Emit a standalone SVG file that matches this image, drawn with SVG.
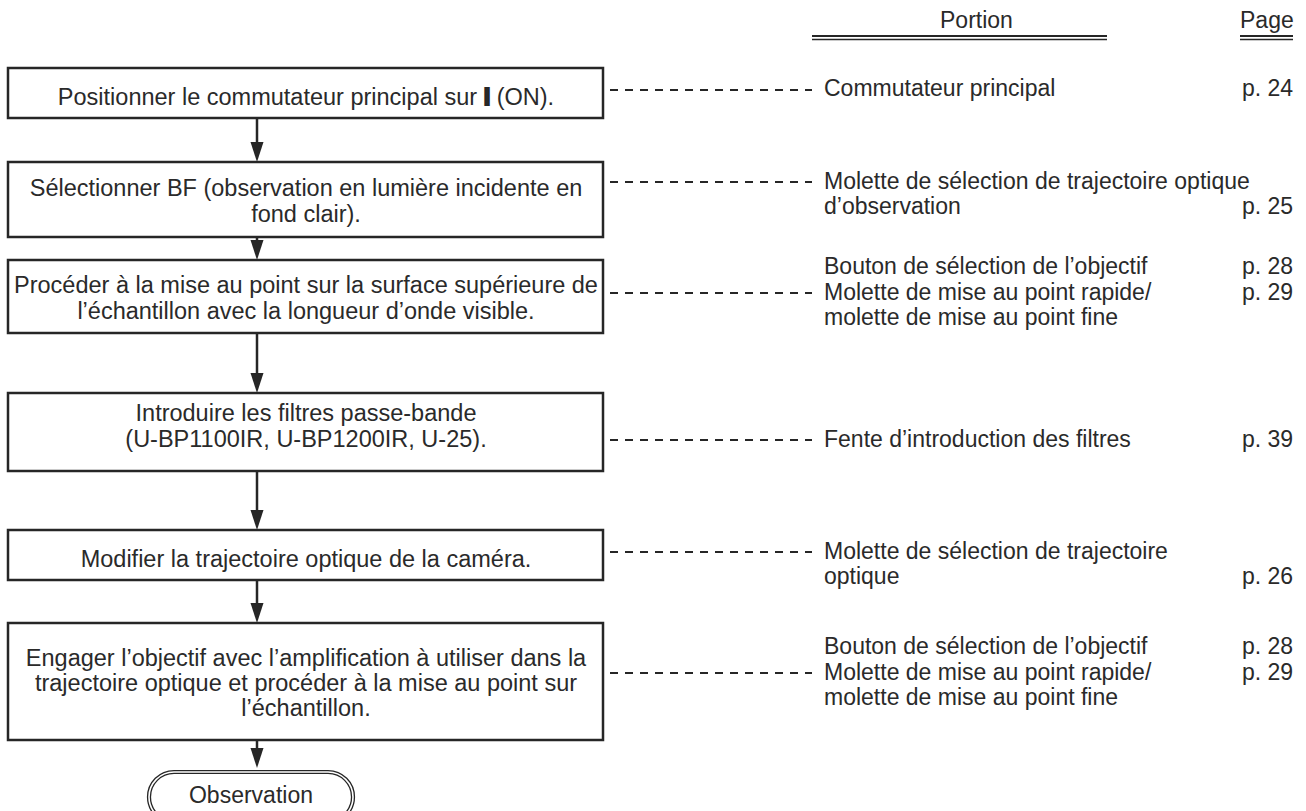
<svg xmlns="http://www.w3.org/2000/svg" width="1306" height="811" viewBox="0 0 1306 811">
  <style>
    text { font-family: "Liberation Sans", Arial, sans-serif; font-size: 23px; fill: #2a2a2a; }
    .c { text-anchor: middle; font-size: 23.5px; }
    .box { fill: #ffffff; stroke: #262626; stroke-width: 2.5; }
    .flow { stroke: #262626; stroke-width: 2.5; fill: none; }
    .head { fill: #262626; }
    .dash { stroke: #262626; stroke-width: 2.2; stroke-dasharray: 8 7; fill: none; }
    .rule { stroke: #262626; fill: none; }
  </style>

  <!-- column headers -->
  <g id="headers">
    <text x="940" y="28">Portion</text>
    <line class="rule" x1="812" y1="36" x2="1107" y2="36" stroke-width="1.8"/>
    <line class="rule" x1="812" y1="39.5" x2="1107" y2="39.5" stroke-width="1.3"/>
    <text x="1240" y="28">Page</text>
    <line class="rule" x1="1240" y1="36" x2="1293" y2="36" stroke-width="1.8"/>
    <line class="rule" x1="1240" y1="39.5" x2="1293" y2="39.5" stroke-width="1.3"/>
  </g>

  <!-- flow steps -->
  <g id="step1">
    <rect class="box" x="8" y="68" width="595" height="50"/>
    <text class="c" x="306" y="105">Positionner le commutateur principal sur <tspan font-weight="bold" stroke="#262626" stroke-width="2">I</tspan> (ON).</text>
  </g>
  <g id="step2">
    <rect class="box" x="8" y="162" width="595" height="75"/>
    <text class="c" x="306" y="196">Sélectionner BF (observation en lumière incidente en</text>
    <text class="c" x="306" y="222">fond clair).</text>
  </g>
  <g id="step3">
    <rect class="box" x="8" y="260" width="595" height="73"/>
    <text class="c" x="306" y="293">Procéder à la mise au point sur la surface supérieure de</text>
    <text class="c" x="306" y="319">l’échantillon avec la longueur d’onde visible.</text>
  </g>
  <g id="step4">
    <rect class="box" x="8" y="393" width="595" height="78"/>
    <text class="c" x="306" y="421">Introduire les filtres passe-bande</text>
    <text class="c" x="306" y="447">(U-BP1100IR, U-BP1200IR, U-25).</text>
  </g>
  <g id="step5">
    <rect class="box" x="8" y="530" width="595" height="50"/>
    <text class="c" x="306" y="567">Modifier la trajectoire optique de la caméra.</text>
  </g>
  <g id="step6">
    <rect class="box" x="8" y="623" width="595" height="117"/>
    <text class="c" x="306" y="666">Engager l’objectif avec l’amplification à utiliser dans la</text>
    <text class="c" x="306" y="691">trajectoire optique et procéder à la mise au point sur</text>
    <text class="c" x="306" y="716">l’échantillon.</text>
  </g>
  <g id="end">
    <rect x="149" y="772" width="204" height="50" rx="25" ry="25" fill="#ffffff" stroke="#262626" stroke-width="4.2"/>
    <rect x="149" y="772" width="204" height="50" rx="25" ry="25" fill="none" stroke="#ffffff" stroke-width="1.6"/>
    <text x="251" y="803" text-anchor="middle">Observation</text>
  </g>

  <!-- part / page references -->
  <g id="ref1">
    <text x="824" y="96">Commutateur principal</text>
    <text x="1242" y="96">p. 24</text>
  </g>
  <g id="ref2">
    <text x="824" y="189">Molette de sélection de trajectoire optique</text>
    <text x="824" y="214">d’observation</text>
    <text x="1242" y="214">p. 25</text>
  </g>
  <g id="ref3">
    <text x="824" y="274">Bouton de sélection de l’objectif</text>
    <text x="1242" y="274">p. 28</text>
    <text x="824" y="300">Molette de mise au point rapide/</text>
    <text x="1242" y="300">p. 29</text>
    <text x="824" y="325">molette de mise au point fine</text>
  </g>
  <g id="ref4">
    <text x="824" y="447">Fente d’introduction des filtres</text>
    <text x="1242" y="447">p. 39</text>
  </g>
  <g id="ref5">
    <text x="824" y="559">Molette de sélection de trajectoire</text>
    <text x="824" y="584">optique</text>
    <text x="1242" y="584">p. 26</text>
  </g>
  <g id="ref6">
    <text x="824" y="654">Bouton de sélection de l’objectif</text>
    <text x="1242" y="654">p. 28</text>
    <text x="824" y="680">Molette de mise au point rapide/</text>
    <text x="1242" y="680">p. 29</text>
    <text x="824" y="705">molette de mise au point fine</text>
  </g>

  <!-- connectors -->
  <g id="connectors">
    <line class="flow" x1="257" y1="118" x2="257" y2="146"/>
    <path class="head" d="M250.5,142 L263.5,142 L257,162 Z"/>
    <line class="flow" x1="257" y1="237" x2="257" y2="244"/>
    <path class="head" d="M250.5,240 L263.5,240 L257,260 Z"/>
    <line class="flow" x1="257" y1="333" x2="257" y2="377"/>
    <path class="head" d="M250.5,373 L263.5,373 L257,393 Z"/>
    <line class="flow" x1="257" y1="471" x2="257" y2="514"/>
    <path class="head" d="M250.5,510 L263.5,510 L257,530 Z"/>
    <line class="flow" x1="257" y1="580" x2="257" y2="607"/>
    <path class="head" d="M250.5,603 L263.5,603 L257,623 Z"/>
    <line class="flow" x1="257" y1="740" x2="257" y2="752"/>
    <path class="head" d="M250.5,748 L263.5,748 L257,768 Z"/>

    <line class="dash" x1="610" y1="90" x2="812" y2="90"/>
    <line class="dash" x1="610" y1="182" x2="812" y2="182"/>
    <line class="dash" x1="610" y1="293" x2="812" y2="293"/>
    <line class="dash" x1="610" y1="440" x2="812" y2="440"/>
    <line class="dash" x1="610" y1="552" x2="812" y2="552"/>
    <line class="dash" x1="610" y1="673" x2="812" y2="673"/>
  </g>
</svg>
